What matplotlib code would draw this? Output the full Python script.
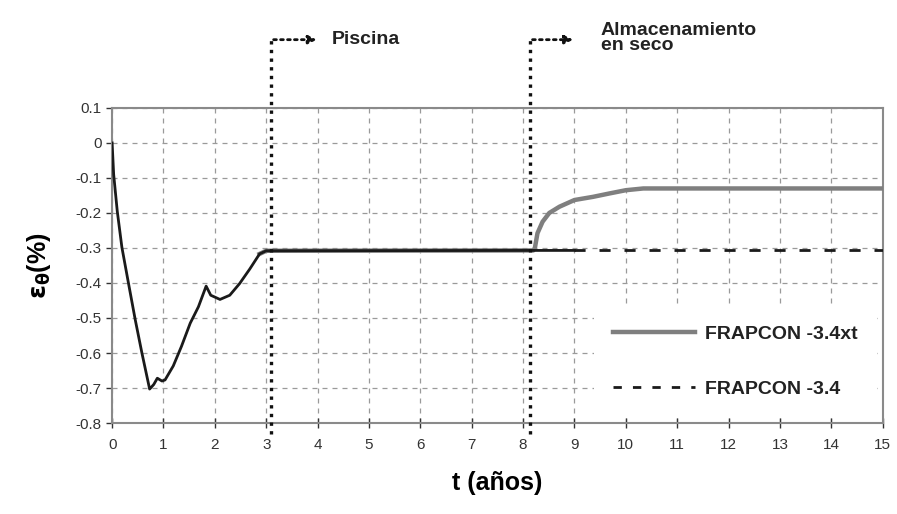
import matplotlib.pyplot as plt

plt.rcParams['font.family'] = ['Liberation Sans', 'DejaVu Sans']

# Datos
t_34 = [0.0, 0.03, 0.1, 0.19, 0.32, 0.45, 0.58, 0.73, 0.81, 0.88, 0.97, 1.03,
        1.19, 1.35, 1.52, 1.68, 1.83, 1.92, 2.1, 2.29, 2.48, 2.68, 2.87, 3.0,
        8.2, 9.0, 15.0]
e_34 = [0.0, -0.09, -0.195, -0.298, -0.402, -0.505, -0.6, -0.703, -0.69, -0.672,
        -0.68, -0.677, -0.637, -0.581, -0.515, -0.468, -0.409, -0.435, -0.447,
        -0.435, -0.402, -0.36, -0.317, -0.308, -0.307, -0.307, -0.307]

t_xt = [2.87, 3.0, 8.2, 8.23, 8.28, 8.38, 8.51, 8.71, 9.0, 9.36, 9.69, 10.0,
        10.34, 15.0]
e_xt = [-0.317, -0.308, -0.307, -0.3, -0.258, -0.225, -0.2, -0.182, -0.163,
        -0.154, -0.144, -0.135, -0.13, -0.13]

t_piscina = 3.09
t_seco = 8.13

fig = plt.figure(figsize=(8.97, 5.14), dpi=100)
ax = fig.add_axes([0.125, 0.177, 0.859, 0.613])

ax.plot(t_xt, e_xt, color='#7f7f7f', lw=3.2, label='FRAPCON -3.4xt', zorder=3)
n = t_34.index(9.0) + 1
ax.plot(t_34[:n], e_34[:n], color='#1a1a1a', lw=2, zorder=4)
ax.plot(t_34[n - 1:], e_34[n - 1:], color='#1a1a1a', lw=2,
        ls=(0, (4, 5)), zorder=4)
ax.plot([], [], color='#1a1a1a', lw=2, ls=(0, (3, 4)), label='FRAPCON -3.4')

ax.set_xlim(0, 15)
ax.set_ylim(-0.8, 0.1)
ax.set_xticks(range(0, 16))
ax.set_yticks([0.1, 0, -0.1, -0.2, -0.3, -0.4, -0.5, -0.6, -0.7, -0.8])
ax.set_yticklabels(['0.1', '0', '-0.1', '-0.2', '-0.3', '-0.4', '-0.5',
                    '-0.6', '-0.7', '-0.8'])
ax.tick_params(labelsize=11, colors='#333333', length=4, width=1)
ax.tick_params(axis='x', direction='inout', length=7, pad=7)
ax.grid(True, ls=(0, (4, 4)), color='#9a9a9a', lw=0.9)
for s in ax.spines.values():
    s.set_color('#8a8a8a')
    s.set_linewidth(1.5)

ax.set_xlabel('t (años)', fontsize=18, fontweight='bold', labelpad=14)
ax.set_ylabel(r'$\mathbf{\varepsilon_{\theta}}$(%)', fontsize=18,
              fontweight='bold', labelpad=16)

# Lineas de cambio de etapa
for tv in (t_piscina, t_seco):
    ax.plot([tv, tv], [-0.83, 0.305], color='#111111', lw=2.4,
            ls=(0, (1, 1.6)), clip_on=False, zorder=5)
for tv, dx in ((t_piscina, 0.95), (t_seco, 0.9)):
    ax.annotate('', xy=(tv + dx, 0.295), xytext=(tv, 0.295),
                arrowprops=dict(arrowstyle='-|>', ls=(0, (1, 1.5)), lw=2,
                                color='#111111', mutation_scale=12),
                annotation_clip=False)
ax.text(t_piscina + 1.19, 0.295, 'Piscina', fontsize=14, fontweight='bold',
        va='center', ha='left', color='#222222')
ax.text(t_seco + 1.38, 0.3, 'Almacenamiento\nen seco', fontsize=14,
        fontweight='bold', va='center', ha='left', color='#222222',
        linespacing=0.85)

leg = ax.legend(loc='lower right', bbox_to_anchor=(1.0, 0.0), frameon=True,
                facecolor='white', edgecolor='none', framealpha=1,
                handlelength=4.2, handletextpad=0.5, labelspacing=1.9,
                borderpad=1.0, borderaxespad=0.3,
                prop={'weight': 'bold', 'size': 14})
leg.set_zorder(6)
for txt in leg.get_texts():
    txt.set_color('#222222')

fig.savefig('out.png', dpi=100)
